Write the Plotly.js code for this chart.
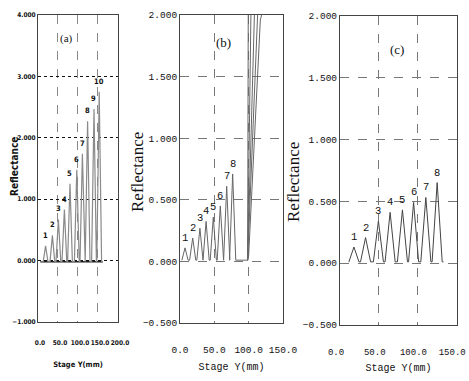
<!DOCTYPE html>
<html>
<head>
<meta charset="utf-8">
<script src="https://cdn.plot.ly/plotly-3.0.1.min.js"></script>
<style>html,body{margin:0;padding:0;background:#fff}#chart{width:469px;height:381px}</style>
</head>
<body>
<div id="chart"></div>
<script>
// ---------- data ----------
// panel (a)
const aPos = [19, 36, 51, 66, 80, 97, 111, 124, 140, 153];
const aHeight = [0.24, 0.41, 0.67, 0.83, 1.25, 1.48, 1.74, 2.27, 2.47, 2.75];
const aLabels = ['1','2','3','4','5','6','7','8','9','10'];
const aBaseX = [6, 162];
const aBaseY = -0.02;
const aHalfWidth = 6;
// panel (b)
const bPos = [7.3, 18.5, 29, 38, 48.5, 58.7, 68, 76.7];
const bHeight = [0.11, 0.19, 0.27, 0.325, 0.36, 0.45, 0.61, 0.71];
const bLabels = ['1','2','3','4','5','6','7','8'];
const bBaseX = [2.5, 98.5];
const bBaseY = 0.01;
const bHalfWidth = 4.5;
const bRiseTopX = [99.4, 103.4, 108.6, 113.4];
const bRiseTopY = 2.05;
const bCurveX = [100, 117, 121];
const bCurveY = [0.05, 1.96, 2.05];
// panel (c)
const cPos = [18, 33, 49.6, 64.7, 80.6, 95, 110.8, 125.4];
const cHeight = [0.13, 0.206, 0.34, 0.41, 0.43, 0.49, 0.53, 0.65];
const cLabels = ['1','2','3','4','5','6','7','8'];
const cBaseX = [12, 133.6];
const cBaseY = 0.01;
const cHalfWidth = 6.5;
// tick labels / titles
const aYTicks = [-1, 0, 1, 2, 3, 4];
const aXTicks = [0, 50, 100, 150, 200];
const bcYTicks = [-0.5, 0, 0.5, 1, 1.5, 2];
const bcXTicks = [0, 50, 100, 150];
const yTitle = 'Reflectance';
const xTitle = 'Stage Y(mm)';

// ---------- build ----------
function peakTrace(pos, h, hw, baseX, baseY) {
  const x = [baseX[0]], y = [baseY];
  for (let i = 0; i < pos.length; i++) {
    x.push(pos[i] - hw, pos[i], pos[i] + hw);
    y.push(baseY, h[i], baseY);
  }
  x.push(baseX[1]); y.push(baseY);
  return {x, y};
}
const narrow = 'Liberation Sans Narrow, DejaVu Sans Condensed, Arial Narrow, Liberation Sans, sans-serif';
const mono = 'Liberation Mono, DejaVu Sans Mono, Courier New, monospace';
const serif = 'Liberation Serif, DejaVu Serif, Times New Roman, serif';

const pa = peakTrace(aPos, aHeight, aHalfWidth, aBaseX, aBaseY);
const pb = peakTrace(bPos, bHeight, bHalfWidth, bBaseX, bBaseY);
pb.x.push(bRiseTopX[0]); pb.y.push(bRiseTopY);
const pc = peakTrace(cPos, cHeight, cHalfWidth, cBaseX, cBaseY);

const traces = [
  {x: aBaseX, y: [aBaseY, aBaseY], xaxis: 'x', yaxis: 'y', mode: 'lines', line: {color: '#222', width: 1.6}},
  {x: pa.x, y: pa.y, xaxis: 'x', yaxis: 'y', mode: 'lines', line: {color: '#8a8a8a', width: 1.2}},
  {x: pb.x, y: pb.y, xaxis: 'x2', yaxis: 'y2', mode: 'lines', line: {color: '#666', width: 1}},
  {x: pc.x, y: pc.y, xaxis: 'x3', yaxis: 'y3', mode: 'lines', line: {color: '#444', width: 1}}
];
for (let i = 1; i < bRiseTopX.length; i++) {
  traces.push({x: [bBaseX[1], bRiseTopX[i]], y: [bBaseY, bRiseTopY], xaxis: 'x2', yaxis: 'y2',
    mode: 'lines', line: {color: '#666', width: 1}});
}
traces.push({x: [bBaseX[1]].concat(bCurveX), y: [bBaseY].concat(bCurveY), xaxis: 'x2', yaxis: 'y2',
  mode: 'lines', line: {color: '#666', width: 1}});

const annotations = [];
function addLabels(pos, h, labels, xr, yr, font, shift) {
  for (let i = 0; i < pos.length; i++) {
    annotations.push({x: pos[i], y: h[i], xref: xr, yref: yr, text: labels[i], showarrow: false,
      yanchor: 'bottom', yshift: shift, font: font});
  }
}
addLabels(aPos, aHeight, aLabels, 'x', 'y', {family: narrow, size: 7.5, color: '#111', weight: 'bold'}, 4);
addLabels(bPos, bHeight, bLabels, 'x2', 'y2', {family: mono, size: 10.5, color: '#111'}, 2);
addLabels(cPos, cHeight, cLabels, 'x3', 'y3', {family: mono, size: 10.5, color: '#111'}, 2);
annotations.push({text: '(a)', xref: 'x domain', yref: 'y domain', x: 0.36, y: 0.95, showarrow: false,
  font: {family: serif, size: 11, color: '#111'}});
annotations.push({text: '(b)', xref: 'x2 domain', yref: 'y2 domain', x: 0.42, y: 0.94, showarrow: false,
  font: {family: serif, size: 13, color: '#111'}});
annotations.push({text: '(c)', xref: 'x3 domain', yref: 'y3 domain', x: 0.49, y: 0.92, showarrow: false,
  font: {family: serif, size: 13, color: '#111'}});
annotations.push({text: yTitle, xref: 'paper', yref: 'paper', x: 14/469, y: 1 - 167/381, textangle: -90,
  xanchor: 'center', yanchor: 'middle', showarrow: false, font: {family: narrow, size: 10, color: '#111', weight: 'bold'}});
annotations.push({text: yTitle, xref: 'paper', yref: 'paper', x: 138/469, y: 1 - 172/381, textangle: -90,
  xanchor: 'center', yanchor: 'middle', showarrow: false, font: {family: serif, size: 17, color: '#111'}});
annotations.push({text: yTitle, xref: 'paper', yref: 'paper', x: 293/469, y: 1 - 182/381, textangle: -90,
  xanchor: 'center', yanchor: 'middle', showarrow: false, font: {family: serif, size: 17, color: '#111'}});

function xax(domain, range, ticks, anchor, font, ticklen, titleFont, standoff, shift) {
  return {domain, range, anchor, tickmode: 'array', tickvals: ticks, tickformat: '.1f', tickangle: 0,
    ticks: 'outside', ticklen: ticklen,
    tickcolor: 'rgba(0,0,0,0)', tickfont: font, ticklabeloverflow: 'allow', ticklabelshift: shift,
    showgrid: true, gridcolor: '#777', griddash: 'dash',
    gridwidth: 1, zeroline: false, showline: true, mirror: true, linecolor: '#444', linewidth: 1,
    title: {text: xTitle, font: titleFont, standoff: standoff}, fixedrange: true};
}
function yax(domain, range, ticks, anchor, font, gridcolor, griddash) {
  return {domain, range, anchor, tickmode: 'array', tickvals: ticks, tickformat: '.3f', ticks: '', tickfont: font,
    showgrid: true, gridcolor, griddash, gridwidth: 1, zeroline: false, showline: true, mirror: true,
    linecolor: '#444', linewidth: 1, fixedrange: true};
}
const aTick = {family: narrow, size: 6.5, color: '#111', weight: 'bold'};
const bcTick = {family: mono, size: 9.5, color: '#111'};

const layout = {
  width: 469, height: 381, margin: {l: 0, r: 0, t: 0, b: 0}, showlegend: false,
  paper_bgcolor: '#fff', plot_bgcolor: '#fff',
  xaxis: xax([0.0810, 0.2516], [0, 200], aXTicks, 'y', {family: narrow, size: 6.5, color: '#111', weight: 'bold'}, 14, {family: narrow, size: 7.5, color: '#111', weight: 'bold'}, 15, 2),
  yaxis: yax([0.1549, 0.9606], [-1, 4], aYTicks, 'x', aTick, '#111', 'dot'),
  xaxis2: xax([0.3838, 0.6034], [0, 150], bcXTicks, 'y2', bcTick, 18, {family: mono, size: 10, color: '#111'}, 7, 0),
  yaxis2: yax([0.1522, 0.9606], [-0.5, 2], bcYTicks, 'x2', bcTick, '#777', 'dash'),
  xaxis3: xax([0.7249, 0.9744], [0, 151], bcXTicks, 'y3', {family: mono, size: 9, color: '#111'}, 18, {family: mono, size: 10, color: '#111'}, 7, -4),
  yaxis3: yax([0.1470, 0.9593], [-0.5, 2], bcYTicks, 'x3', bcTick, '#777', 'dash'),
  annotations
};
layout.xaxis.gridcolor = '#888';

Plotly.newPlot('chart', traces, layout, {staticPlot: true, displayModeBar: false});
</script>
</body>
</html>
